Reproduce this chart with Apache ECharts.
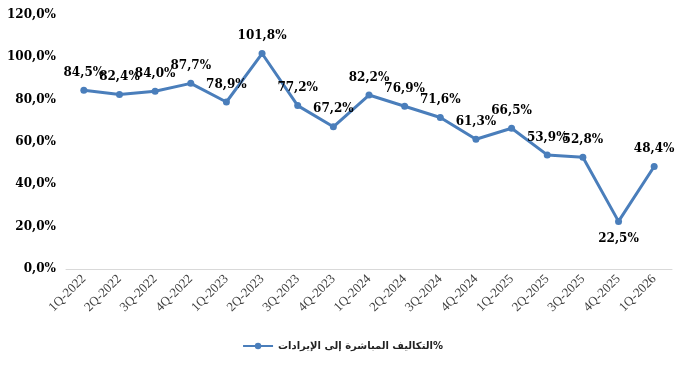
<!DOCTYPE html>
<html><head><meta charset="utf-8">
<script src="https://cdn.jsdelivr.net/npm/echarts@6/dist/echarts.min.js"></script>
<style>html,body{margin:0;padding:0;background:#fff}#c{width:685px;height:366px}</style>
</head><body><div id="c"></div>
<script>
const categories = ["1Q-2022","2Q-2022","3Q-2022","4Q-2022","1Q-2023","2Q-2023","3Q-2023","4Q-2023","1Q-2024","2Q-2024","3Q-2024","4Q-2024","1Q-2025","2Q-2025","3Q-2025","4Q-2025","1Q-2026"];
const values = [84.5,82.4,84.0,87.7,78.9,101.8,77.2,67.2,82.2,76.9,71.6,61.3,66.5,53.9,52.8,22.5,48.4];
const seriesName = "التكاليف المباشرة إلى الإيرادات%";
const fmt = v => v.toFixed(1).replace('.', ',') + '%';
const chart = echarts.init(document.getElementById('c'));
chart.setOption({
  animation:false,
  grid:{left:66,right:13,top:15,bottom:97,containLabel:false},
  legend:{bottom:10,left:'center',itemWidth:30,itemHeight:8,
    textStyle:{fontFamily:'DejaVu Sans',fontSize:10,fontWeight:'bold',color:'#222'},
    data:[seriesName]},
  xAxis:{type:'category',data:categories,boundaryGap:true,
    axisLine:{lineStyle:{color:'#d9d9d9',width:1}},axisTick:{show:false},
    axisLabel:{rotate:45,interval:0,margin:8,fontFamily:'Liberation Serif',fontSize:13,color:'#404040'}},
  yAxis:{type:'value',min:0,max:120,interval:20,
    splitLine:{show:false},axisLine:{show:false},axisTick:{show:false},
    axisLabel:{formatter:fmt,margin:10,fontFamily:'DejaVu Serif',fontWeight:'bold',fontSize:12,color:'#000'}},
  series:[{name:seriesName,type:'line',data:values.map((v,i)=>({value:v,label:{position: i===15?'bottom':'top'}})),
    symbol:'circle',symbolSize:7,
    lineStyle:{color:'#4a7ebb',width:3},itemStyle:{color:'#4a7ebb'},
    label:{show:true,distance:8,formatter:p=>fmt(p.value),fontFamily:'DejaVu Serif',fontWeight:'bold',fontSize:12,color:'#000'}}]
});
</script></body></html>
